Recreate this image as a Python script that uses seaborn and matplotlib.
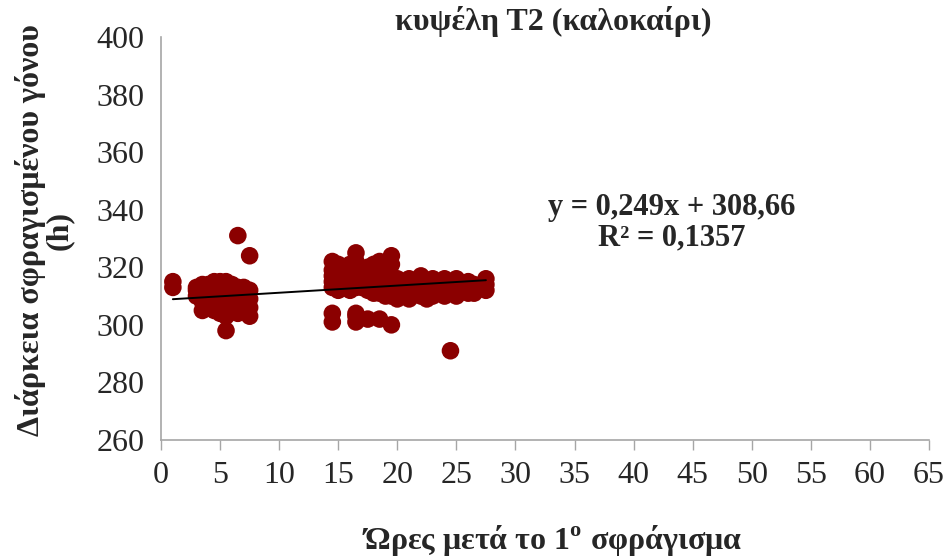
import matplotlib
matplotlib.use("Agg")
import matplotlib.pyplot as plt
import seaborn as sns
import numpy as np
import pandas as pd

# Hours after first sealing (column position) and sealed-brood durations (h)
hours = [1, 3, 3.5, 4, 4.5, 5, 5.5, 6, 6.5, 7, 7.5,
         14.5, 15, 15.5, 16, 16.5, 17, 17.5, 18, 18.5, 19, 19.5,
         20, 20.5, 21, 22, 22.5, 23, 24, 24.5, 25, 26, 26.5, 27.5]
durations = [
    [315, 313],
    [310, 312, 313],
    [305, 308, 311, 314],
    [306, 309, 312, 314],
    [305, 308, 311, 315],
    [304, 307, 310, 313, 315],
    [298, 303, 306, 309, 312, 315],
    [305, 308, 311, 314],
    [304, 307, 310, 313, 331],
    [305, 308, 311, 313],
    [303, 306, 309, 312, 324],
    [301, 304, 313, 315, 317, 319, 322],
    [312, 314, 316, 318, 321],
    [313, 315, 317, 320],
    [312, 314, 317, 319, 321],
    [301, 303, 304, 313, 315, 318, 322, 325],
    [313, 315, 317, 319],
    [302, 312, 314, 317, 320],
    [311, 313, 316, 318, 321],
    [302, 311, 314, 317, 322],
    [310, 312, 315, 318, 320],
    [300, 310, 313, 316, 321, 324],
    [309, 311, 313, 316],
    [310, 312, 315],
    [309, 311, 314, 316],
    [310, 312, 315, 317],
    [309, 312, 314],
    [310, 313, 316],
    [310, 312, 315, 316],
    [291, 311, 314],
    [310, 313, 316],
    [311, 313, 315],
    [311, 314],
    [312, 314, 316],
]

# Linear trend line coefficients
slope = 0.249
intercept = 308.66
r_squared = 0.1357

x_ticks = list(range(0, 70, 5))
y_ticks = list(range(260, 420, 20))

df = pd.DataFrame(
    [(h, d) for h, ds in zip(hours, durations) for d in ds],
    columns=["hours", "duration"],
)

sns.set_theme(style="white")
plt.rcParams["font.family"] = ["Liberation Serif", "DejaVu Serif"]
plt.rcParams["mathtext.fontset"] = "custom"
plt.rcParams["mathtext.rm"] = "Liberation Serif"
plt.rcParams["mathtext.bf"] = "Liberation Serif:bold"

fig = plt.figure(figsize=(9.44, 5.6), dpi=100)
ax = fig.add_axes([0.1706, 0.2143, 0.8134, 0.7197])

sns.scatterplot(data=df, x="hours", y="duration", ax=ax, color="#8B0000",
                s=160, edgecolor="none", linewidth=0, zorder=2)

line_x = np.array([min(hours), max(hours)])
ax.plot(line_x, slope * line_x + intercept, color="black", lw=1.4, zorder=3)

ax.set_xlim(0, 65)
ax.set_ylim(260, 400)
ax.set_xticks(x_ticks)
ax.set_yticks(y_ticks)
ax.tick_params(axis="x", labelsize=23, length=7, width=1, color="#A6A6A6",
               direction="out", pad=8, bottom=True)
ax.tick_params(axis="y", labelsize=23, length=0, pad=12, left=False)

for side in ["top", "right"]:
    ax.spines[side].set_visible(False)
for side in ["left", "bottom"]:
    ax.spines[side].set_color("#A6A6A6")
    ax.spines[side].set_linewidth(1.2)

ax.set_xlabel(r"Ώρες μετά το 1$^{\mathbf{o}}$ σφράγισμα", fontsize=23,
              fontweight="bold")
ax.xaxis.set_label_coords(0.509, -0.205)
ax.set_ylabel("Διάρκεια σφραγισμένου γόνου\n(h)", fontsize=23,
              fontweight="bold", linespacing=0.95)
ax.yaxis.set_label_coords(-0.113, 0.52)

fig.text(0.586, 0.962, "κυψέλη T2 (καλοκαίρι)", ha="center", va="center",
         fontsize=23, fontweight="bold")

eq = f"y = {slope:.3f}x + {intercept:.2f}".replace(".", ",")
r2 = f"R² = {r_squared:.4f}".replace(".", ",")
ax.text(43.2, 335.5, eq + "\n" + r2, ha="center", va="center", fontsize=22,
        fontweight="bold", linespacing=1.05)

fig.savefig("out.png", dpi=100)
